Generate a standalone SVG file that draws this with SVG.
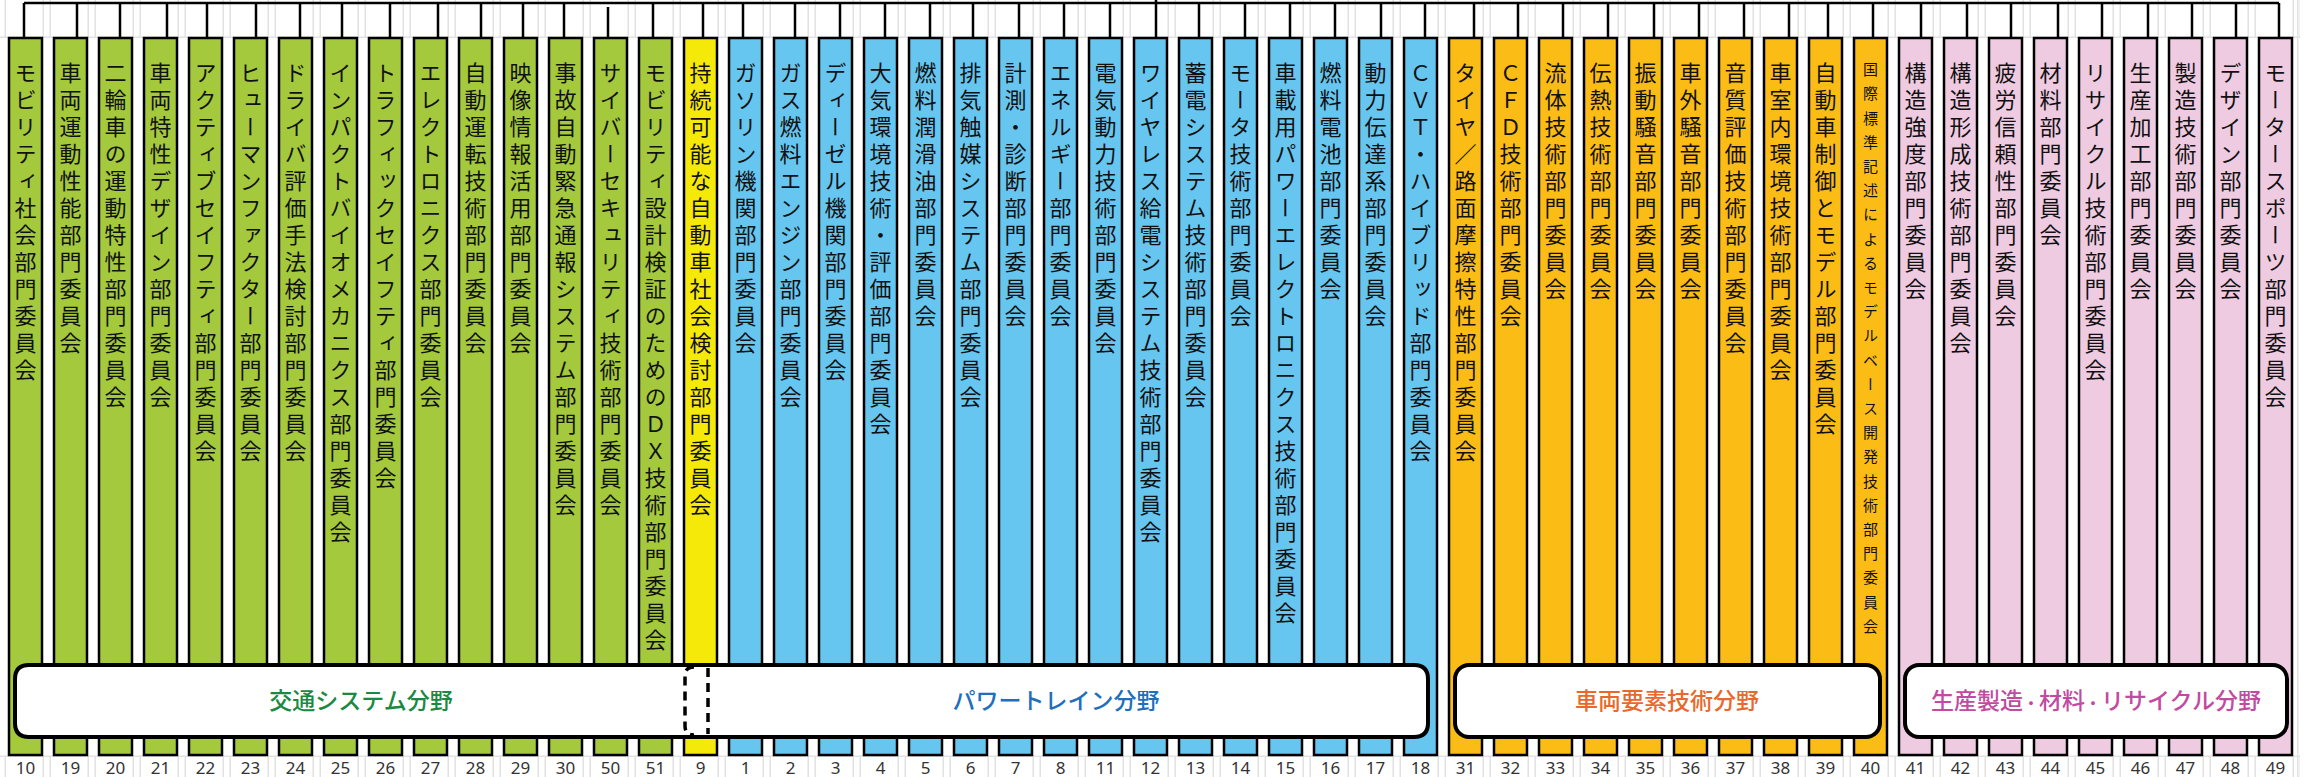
<svg xmlns="http://www.w3.org/2000/svg" width="2313" height="777" viewBox="0 0 2313 777">
<style>
.box{stroke:#000;stroke-width:2.5}
.g{fill:#a4c93c}.y{fill:#f5e90a}.b{fill:#67c6ef}.o{fill:#fbbd15}.p{fill:#efcbe1}
.v{font-family:"Noto Sans CJK JP","Noto Sans",sans-serif;font-size:22px;letter-spacing:5px;writing-mode:vertical-rl;fill:#111}
.vs{font-size:15px;letter-spacing:9.2px}
.num{font-family:"Noto Sans","Liberation Sans",sans-serif;font-size:17px;fill:#333;text-anchor:middle}
.conn{stroke:#000;stroke-width:2.5;fill:none}
.band{fill:#fff;stroke:none}
.bline{stroke:#000;stroke-width:4;fill:none}
.bandf{fill:#fff;stroke:#000;stroke-width:4}
.dash{stroke:#000;stroke-width:3.5;fill:none;stroke-dasharray:9 6}
.bl{font-family:"Noto Sans CJK JP",sans-serif;font-size:23px;font-weight:500;text-anchor:middle}
</style>
<defs>
<pattern id="grid" patternUnits="userSpaceOnUse" x="0" y="0" width="45" height="40">
<rect x="4.5" y="0" width="1.5" height="40" fill="#e2e2e2"/>
<rect x="42.5" y="0" width="1.5" height="40" fill="#e2e2e2"/>
</pattern>
</defs>
<rect x="0" y="0" width="2313" height="777" fill="#fff"/>
<g id="gridlines">
<rect x="0" y="0" width="2300" height="38" fill="url(#grid)"/>
<rect x="0" y="756" width="2300" height="21" fill="url(#grid)"/>
<rect x="2297" y="0" width="1.5" height="777" fill="#e2e2e2"/>
<rect x="0" y="36.5" width="2300" height="1.5" fill="#e2e2e2"/>
<rect x="0" y="755.5" width="2300" height="1.5" fill="#e2e2e2"/>
</g>
<g id="connectors">
<path class="conn" d="M24 3H2279M1156 0V3"/>
<path class="conn" d="M24 3V43M77 3V38M120 3V38M167 3V38M207 3V38M256 3V38M300 3V38M342 3V38M390 3V38M438 3V38M481 3V38M523 3V38M564 3V38M608 7V40M653 3V38M703 3V38M743 3V38M795 3V38M840 3V38M885 3V38M930 3V38M973 3V38M1019 3V38M1064 3V38M1110 3V38M1156 3V38M1199 3V38M1245 3V38M1290 3V38M1335 3V38M1381 3V38M1425 3V38M1474 3V38M1518 3V38M1563 3V38M1608 3V38M1654 3V38M1699 3V38M1744 3V38M1789 3V38M1828 3V38M1873 3V38M1921 3V38M1967 3V38M2011 3V38M2058 3V38M2102 3V38M2148 3V38M2192 3V38M2236 3V38M2279 3V43"/>
</g>
<g id="n10"><rect class="box g" x="9" y="38" width="33" height="717"/><text class="v" x="25.5" y="62">モビリティ社会部門委員会</text><text class="num" x="25.5" y="774">10</text></g>
<g id="n19"><rect class="box g" x="54" y="38" width="33" height="717"/><text class="v" x="70.5" y="62">車両運動性能部門委員会</text><text class="num" x="70.5" y="774">19</text></g>
<g id="n20"><rect class="box g" x="99" y="38" width="33" height="717"/><text class="v" x="115.5" y="62">二輪車の運動特性部門委員会</text><text class="num" x="115.5" y="774">20</text></g>
<g id="n21"><rect class="box g" x="144" y="38" width="33" height="717"/><text class="v" x="160.5" y="62">車両特性デザイン部門委員会</text><text class="num" x="160.5" y="774">21</text></g>
<g id="n22"><rect class="box g" x="189" y="38" width="33" height="717"/><text class="v" x="205.5" y="62">アクティブセイフティ部門委員会</text><text class="num" x="205.5" y="774">22</text></g>
<g id="n23"><rect class="box g" x="234" y="38" width="33" height="717"/><text class="v" x="250.5" y="62">ヒューマンファクター部門委員会</text><text class="num" x="250.5" y="774">23</text></g>
<g id="n24"><rect class="box g" x="279" y="38" width="33" height="717"/><text class="v" x="295.5" y="62">ドライバ評価手法検討部門委員会</text><text class="num" x="295.5" y="774">24</text></g>
<g id="n25"><rect class="box g" x="324" y="38" width="33" height="717"/><text class="v" x="340.5" y="62">インパクトバイオメカニクス部門委員会</text><text class="num" x="340.5" y="774">25</text></g>
<g id="n26"><rect class="box g" x="369" y="38" width="33" height="717"/><text class="v" x="385.5" y="62">トラフィックセイフティ部門委員会</text><text class="num" x="385.5" y="774">26</text></g>
<g id="n27"><rect class="box g" x="414" y="38" width="33" height="717"/><text class="v" x="430.5" y="62">エレクトロニクス部門委員会</text><text class="num" x="430.5" y="774">27</text></g>
<g id="n28"><rect class="box g" x="459" y="38" width="33" height="717"/><text class="v" x="475.5" y="62">自動運転技術部門委員会</text><text class="num" x="475.5" y="774">28</text></g>
<g id="n29"><rect class="box g" x="504" y="38" width="33" height="717"/><text class="v" x="520.5" y="62">映像情報活用部門委員会</text><text class="num" x="520.5" y="774">29</text></g>
<g id="n30"><rect class="box g" x="549" y="38" width="33" height="717"/><text class="v" x="565.5" y="62">事故自動緊急通報システム部門委員会</text><text class="num" x="565.5" y="774">30</text></g>
<g id="n50"><rect class="box g" x="594" y="38" width="33" height="717"/><text class="v" x="610.5" y="62">サイバーセキュリティ技術部門委員会</text><text class="num" x="610.5" y="774">50</text></g>
<g id="n51"><rect class="box g" x="639" y="38" width="33" height="717"/><text class="v" x="655.5" y="62">モビリティ設計検証のためのＤＸ技術部門委員会</text><text class="num" x="655.5" y="774">51</text></g>
<g id="n9"><rect class="box y" x="684" y="38" width="33" height="717"/><text class="v" x="700.5" y="62">持続可能な自動車社会検討部門委員会</text><text class="num" x="700.5" y="774">9</text></g>
<g id="n1"><rect class="box b" x="729" y="38" width="33" height="717"/><text class="v" x="745.5" y="62">ガソリン機関部門委員会</text><text class="num" x="745.5" y="774">1</text></g>
<g id="n2"><rect class="box b" x="774" y="38" width="33" height="717"/><text class="v" x="790.5" y="62">ガス燃料エンジン部門委員会</text><text class="num" x="790.5" y="774">2</text></g>
<g id="n3"><rect class="box b" x="819" y="38" width="33" height="717"/><text class="v" x="835.5" y="62">ディーゼル機関部門委員会</text><text class="num" x="835.5" y="774">3</text></g>
<g id="n4"><rect class="box b" x="864" y="38" width="33" height="717"/><text class="v" x="880.5" y="62">大気環境技術・評価部門委員会</text><text class="num" x="880.5" y="774">4</text></g>
<g id="n5"><rect class="box b" x="909" y="38" width="33" height="717"/><text class="v" x="925.5" y="62">燃料潤滑油部門委員会</text><text class="num" x="925.5" y="774">5</text></g>
<g id="n6"><rect class="box b" x="954" y="38" width="33" height="717"/><text class="v" x="970.5" y="62">排気触媒システム部門委員会</text><text class="num" x="970.5" y="774">6</text></g>
<g id="n7"><rect class="box b" x="999" y="38" width="33" height="717"/><text class="v" x="1015.5" y="62">計測・診断部門委員会</text><text class="num" x="1015.5" y="774">7</text></g>
<g id="n8"><rect class="box b" x="1044" y="38" width="33" height="717"/><text class="v" x="1060.5" y="62">エネルギー部門委員会</text><text class="num" x="1060.5" y="774">8</text></g>
<g id="n11"><rect class="box b" x="1089" y="38" width="33" height="717"/><text class="v" x="1105.5" y="62">電気動力技術部門委員会</text><text class="num" x="1105.5" y="774">11</text></g>
<g id="n12"><rect class="box b" x="1134" y="38" width="33" height="717"/><text class="v" x="1150.5" y="62">ワイヤレス給電システム技術部門委員会</text><text class="num" x="1150.5" y="774">12</text></g>
<g id="n13"><rect class="box b" x="1179" y="38" width="33" height="717"/><text class="v" x="1195.5" y="62">蓄電システム技術部門委員会</text><text class="num" x="1195.5" y="774">13</text></g>
<g id="n14"><rect class="box b" x="1224" y="38" width="33" height="717"/><text class="v" x="1240.5" y="62">モータ技術部門委員会</text><text class="num" x="1240.5" y="774">14</text></g>
<g id="n15"><rect class="box b" x="1269" y="38" width="33" height="717"/><text class="v" x="1285.5" y="62">車載用パワーエレクトロニクス技術部門委員会</text><text class="num" x="1285.5" y="774">15</text></g>
<g id="n16"><rect class="box b" x="1314" y="38" width="33" height="717"/><text class="v" x="1330.5" y="62">燃料電池部門委員会</text><text class="num" x="1330.5" y="774">16</text></g>
<g id="n17"><rect class="box b" x="1359" y="38" width="33" height="717"/><text class="v" x="1375.5" y="62">動力伝達系部門委員会</text><text class="num" x="1375.5" y="774">17</text></g>
<g id="n18"><rect class="box b" x="1404" y="38" width="33" height="717"/><text class="v" x="1420.5" y="62">ＣＶＴ・ハイブリッド部門委員会</text><text class="num" x="1420.5" y="774">18</text></g>
<g id="n31"><rect class="box o" x="1449" y="38" width="33" height="717"/><text class="v" x="1465.5" y="62">タイヤ／路面摩擦特性部門委員会</text><text class="num" x="1465.5" y="774">31</text></g>
<g id="n32"><rect class="box o" x="1494" y="38" width="33" height="717"/><text class="v" x="1510.5" y="62">ＣＦＤ技術部門委員会</text><text class="num" x="1510.5" y="774">32</text></g>
<g id="n33"><rect class="box o" x="1539" y="38" width="33" height="717"/><text class="v" x="1555.5" y="62">流体技術部門委員会</text><text class="num" x="1555.5" y="774">33</text></g>
<g id="n34"><rect class="box o" x="1584" y="38" width="33" height="717"/><text class="v" x="1600.5" y="62">伝熱技術部門委員会</text><text class="num" x="1600.5" y="774">34</text></g>
<g id="n35"><rect class="box o" x="1629" y="38" width="33" height="717"/><text class="v" x="1645.5" y="62">振動騒音部門委員会</text><text class="num" x="1645.5" y="774">35</text></g>
<g id="n36"><rect class="box o" x="1674" y="38" width="33" height="717"/><text class="v" x="1690.5" y="62">車外騒音部門委員会</text><text class="num" x="1690.5" y="774">36</text></g>
<g id="n37"><rect class="box o" x="1719" y="38" width="33" height="717"/><text class="v" x="1735.5" y="62">音質評価技術部門委員会</text><text class="num" x="1735.5" y="774">37</text></g>
<g id="n38"><rect class="box o" x="1764" y="38" width="33" height="717"/><text class="v" x="1780.5" y="62">車室内環境技術部門委員会</text><text class="num" x="1780.5" y="774">38</text></g>
<g id="n39"><rect class="box o" x="1809" y="38" width="33" height="717"/><text class="v" x="1825.5" y="62">自動車制御とモデル部門委員会</text><text class="num" x="1825.5" y="774">39</text></g>
<g id="n40"><rect class="box o" x="1854" y="38" width="33" height="717"/><text class="v vs" x="1870.5" y="62">国際標準記述によるモデルベース開発技術部門委員会</text><text class="num" x="1870.5" y="774">40</text></g>
<g id="n41"><rect class="box p" x="1899" y="38" width="33" height="717"/><text class="v" x="1915.5" y="62">構造強度部門委員会</text><text class="num" x="1915.5" y="774">41</text></g>
<g id="n42"><rect class="box p" x="1944" y="38" width="33" height="717"/><text class="v" x="1960.5" y="62">構造形成技術部門委員会</text><text class="num" x="1960.5" y="774">42</text></g>
<g id="n43"><rect class="box p" x="1989" y="38" width="33" height="717"/><text class="v" x="2005.5" y="62">疲労信頼性部門委員会</text><text class="num" x="2005.5" y="774">43</text></g>
<g id="n44"><rect class="box p" x="2034" y="38" width="33" height="717"/><text class="v" x="2050.5" y="62">材料部門委員会</text><text class="num" x="2050.5" y="774">44</text></g>
<g id="n45"><rect class="box p" x="2079" y="38" width="33" height="717"/><text class="v" x="2095.5" y="62">リサイクル技術部門委員会</text><text class="num" x="2095.5" y="774">45</text></g>
<g id="n46"><rect class="box p" x="2124" y="38" width="33" height="717"/><text class="v" x="2140.5" y="62">生産加工部門委員会</text><text class="num" x="2140.5" y="774">46</text></g>
<g id="n47"><rect class="box p" x="2169" y="38" width="33" height="717"/><text class="v" x="2185.5" y="62">製造技術部門委員会</text><text class="num" x="2185.5" y="774">47</text></g>
<g id="n48"><rect class="box p" x="2214" y="38" width="33" height="717"/><text class="v" x="2230.5" y="62">デザイン部門委員会</text><text class="num" x="2230.5" y="774">48</text></g>
<g id="n49"><rect class="box p" x="2259" y="38" width="33" height="717"/><text class="v" x="2275.5" y="62">モータースポーツ部門委員会</text><text class="num" x="2275.5" y="774">49</text></g>
<g id="band-traffic">
<rect class="band" x="15" y="665" width="693" height="72" rx="14"/>
</g>
<g id="band-powertrain">
<rect class="band" x="685" y="665" width="743" height="72" rx="14"/>
</g>
<g id="band-lines">
<path class="bline" d="M697 665H29Q15 665 15 679V723Q15 737 29 737H697"/>
<path class="dash" d="M708 668V734"/>
<path class="bline" d="M697 665H1414Q1428 665 1428 679V723Q1428 737 1414 737H697"/>
<path class="dash" d="M694 667Q685 667 685 676V726Q685 735 694 735"/>
</g>
<text class="bl" x="361" y="709" fill="#1a8a42">交通システム分野</text>
<text class="bl" x="1056" y="709" fill="#1f6fbd">パワートレイン分野</text>
<g id="band-vehicle">
<rect class="bandf" x="1455" y="665" width="425" height="72" rx="14"/>
<text class="bl" x="1667" y="709" fill="#e8692b">車両要素技術分野</text>
</g>
<g id="band-production">
<rect class="bandf" x="1905" y="665" width="382" height="72" rx="14"/>
<text class="bl" x="2096" y="709" fill="#c24aa0">生産製造<tspan font-size="16">・</tspan>材料<tspan font-size="16">・</tspan>リサイクル分野</text>
</g>
</svg>
